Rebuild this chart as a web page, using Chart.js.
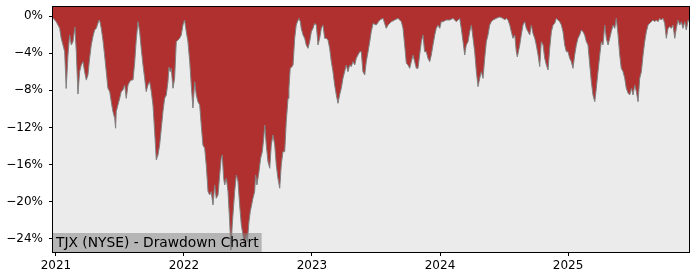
<!DOCTYPE html>
<html><head><meta charset="utf-8">
<script src="https://cdn.jsdelivr.net/npm/chart.js@4"></script>
<style>html,body{margin:0;padding:0;background:#fff}#wrap{width:700px;height:280px}</style>
</head><body><div id="wrap"><canvas id="c" width="700" height="280"></canvas></div>
<script>
const yearTicks = [2021, 2022, 2023, 2024, 2025];
const pctTicks = [-24, -20, -16, -12, -8, -4, 0];
const chartLabel = 'TJX (NYSE) - Drawdown Chart';

// [decimal year, drawdown %]
const dd2021 = [[2020.977,-0.2],[2020.990,-0.43],[2021.002,-0.61],[2021.016,-0.97],[2021.029,-1.33],[2021.041,-2.4],[2021.055,-3.12],[2021.068,-3.84],[2021.080,-7.8],[2021.094,-4.2],[2021.107,-2.04],[2021.120,-3.12],[2021.133,-2.76],[2021.148,-1.2],[2021.159,-3.84],[2021.172,-8.4],[2021.185,-5.99],[2021.198,-5.27],[2021.211,-4.91],[2021.224,-5.99],[2021.237,-6.9],[2021.250,-6.35],[2021.263,-4.55],[2021.276,-3.12],[2021.289,-2.22],[2021.302,-1.51],[2021.315,-1.33],[2021.328,-0.79],[2021.336,-0.43],[2021.344,-0.61],[2021.354,-1.33],[2021.367,-2.58],[2021.380,-4.2],[2021.393,-5.99],[2021.406,-7.78],[2021.420,-8.14],[2021.432,-9.22],[2021.445,-10.29],[2021.459,-11.01],[2021.466,-12.08],[2021.471,-10.29],[2021.484,-9.58],[2021.498,-8.86],[2021.510,-8.14],[2021.523,-7.96],[2021.537,-7.42],[2021.549,-8.86],[2021.563,-7.42],[2021.576,-7.07],[2021.588,-6.89],[2021.602,-6.89],
[2021.615,-5.0],[2021.627,-2.6],[2021.641,-0.61],[2021.654,-1.69],[2021.666,-3.48],[2021.680,-5.27],[2021.693,-6.71],[2021.705,-8.14],[2021.719,-7.42],[2021.732,-7.07],[2021.745,-8.14],[2021.758,-9.58],[2021.771,-12.44],[2021.784,-15.49],[2021.797,-14.96],[2021.810,-13.88],[2021.823,-12.1],[2021.836,-10.29],[2021.849,-8.86],[2021.862,-8.5],[2021.875,-7.07],[2021.883,-5.5],[2021.893,-5.99],[2021.901,-5.63],[2021.914,-7.78],[2021.927,-6.71],[2021.940,-2.76],[2021.953,-2.58],[2021.966,-2.4],[2021.979,-2.04],[2021.992,-0.97]];
const dd2022 = [[2022.005,-0.43],[2022.018,-1.69],[2022.031,-2.76],[2022.045,-4.91],[2022.057,-7.42],[2022.070,-9.9],[2022.084,-7.07],[2022.096,-8.5],[2022.109,-9.22],[2022.123,-9.58],[2022.135,-11.73],[2022.148,-13.88],[2022.162,-14.24],[2022.174,-16.03],[2022.188,-18.9],[2022.201,-19.26],[2022.213,-18.9],[2022.227,-20.34],
[2022.240,-18.18],[2022.252,-19.62],[2022.266,-19.26],[2022.279,-17.11],[2022.291,-15.3],[2022.299,-14.96],[2022.310,-17.47],[2022.318,-18.18],[2022.331,-17.47],[2022.344,-18.9],[2022.357,-22.13],[2022.367,-25.2],[2022.377,-22.5],[2022.396,-18.9],[2022.409,-17.11],[2022.422,-17.8],[2022.435,-20.34],[2022.448,-22.49],[2022.461,-23.56],[2022.474,-24.8],[2022.487,-23.56],[2022.495,-24.28],[2022.508,-22.13],[2022.518,-21.05],[2022.539,-19.62],[2022.552,-18.9],[2022.560,-17.11],[2022.570,-18.18],[2022.586,-16.75],[2022.599,-15.31],[2022.612,-14.6],[2022.623,-13.16],[2022.631,-11.73],[2022.643,-13.88],[2022.656,-15.67],[2022.670,-16.39],[2022.682,-13.88],[2022.695,-12.8],[2022.709,-13.88],[2022.721,-16.03],[2022.734,-17.47],[2022.748,-18.54],[2022.760,-16.03],[2022.773,-14.6],[2022.787,-14.6],[2022.799,-11.37],[2022.813,-8.86],[2022.820,-7.78],[2022.830,-5.63],[2022.844,-5.45],[2022.852,-5.27],
[2022.865,-2.4],[2022.877,-0.97],[2022.891,-0.43],[2022.898,-0.25],[2022.909,-0.61],[2022.916,-1.33],[2022.930,-2.04],[2022.943,-2.4],[2022.955,-3.12],[2022.969,-3.48],[2022.982,-2.76],[2022.995,-1.69]];
const dd2023 = [[2023.008,-1.33],[2023.021,-0.79],[2023.034,-0.97],[2023.047,-3.12],[2023.060,-2.4],[2023.073,-1.33],[2023.086,-0.97],[2023.099,-2.4],[2023.112,-2.4],[2023.125,-2.58],[2023.138,-3.48],[2023.151,-4.91],[2023.164,-5.99],[2023.177,-7.42],[2023.190,-8.5],[2023.203,-9.4],[2023.216,-8.5],[2023.229,-7.78],[2023.242,-6.71],[2023.255,-5.99],[2023.268,-5.27],[2023.281,-5.99],[2023.295,-5.27],[2023.307,-5.45],[2023.320,-4.91],[2023.334,-5.27],[2023.346,-4.55],[2023.359,-4.2],[2023.373,-3.84],[2023.385,-3.84],[2023.398,-5.99],[2023.412,-6.35],[2023.424,-4.91],[2023.438,-3.84],[2023.451,-2.76],[2023.463,-1.69],[2023.477,-0.8],
[2023.502,-0.97],[2023.529,-0.43],[2023.555,-0.25],[2023.580,-1.33],[2023.594,-0.97],[2023.620,-0.61],[2023.646,-0.43],[2023.672,-0.25],[2023.698,-0.61],[2023.711,-1.33],[2023.724,-3.12],[2023.737,-5.09],[2023.750,-5.27],[2023.763,-5.63],[2023.776,-4.91],[2023.789,-4.2],[2023.802,-4.91],[2023.815,-5.63],[2023.828,-5.63],[2023.841,-4.2],[2023.854,-2.76],[2023.867,-2.04],[2023.880,-3.84],[2023.893,-3.84],[2023.906,-4.55],[2023.920,-4.91],[2023.932,-4.2],[2023.945,-3.12],[2023.959,-2.04],[2023.971,-1.33],[2023.984,-0.97],[2023.998,-1.33]];
const dd2024 = [[2024.010,-0.61],[2024.023,-0.61],[2024.049,-0.43],[2024.076,-0.43],[2024.102,-0.25],
[2024.127,-0.61],[2024.141,-0.43],[2024.154,-0.25],[2024.166,-1.33],[2024.180,-2.76],[2024.193,-4.2],[2024.205,-3.12],[2024.219,-2.76],[2024.232,-1.69],[2024.245,-0.97],[2024.258,-2.4],[2024.271,-3.84],[2024.284,-5.99],[2024.297,-7.6],[2024.310,-6.71],[2024.323,-5.99],[2024.336,-6.71],[2024.349,-4.55],[2024.362,-2.76],[2024.375,-2.04],[2024.388,-0.97],[2024.401,-0.61],[2024.414,-0.43],[2024.440,-0.25],[2024.466,-0.1],[2024.492,-0.25],[2024.505,-0.43],[2024.518,-0.25],[2024.531,-0.43],[2024.545,-0.97],[2024.557,-1.69],[2024.570,-2.4],[2024.584,-2.04],[2024.596,-3.84],[2024.604,-4.4],[2024.623,-3.12],[2024.635,-2.04],[2024.648,-0.97],[2024.662,-0.61],[2024.674,-1.33],[2024.688,-1.69],[2024.701,-2.04],[2024.713,-0.97],[2024.727,-1.9],
[2024.740,-2.4],[2024.752,-3.12],[2024.766,-4.2],[2024.779,-5.45],[2024.791,-2.76],[2024.805,-3.12],[2024.818,-4.55],[2024.831,-5.27],[2024.844,-5.8],[2024.857,-3.48],[2024.870,-1.69],[2024.883,-0.97],[2024.896,-0.79],[2024.909,-0.25],[2024.922,-0.43],[2024.935,-0.61],[2024.948,-0.97],[2024.961,-1.69],[2024.974,-3.12],[2024.987,-3.84]];
const dd2025 = [[2025.000,-3.84],[2025.013,-4.55],[2025.026,-4.91],[2025.039,-5.63],[2025.052,-4.2],[2025.065,-3.12],[2025.078,-2.4],[2025.091,-2.04],[2025.104,-1.51],[2025.117,-1.69],[2025.130,-2.04],[2025.143,-2.76],[2025.156,-3.12],[2025.170,-5.27],[2025.182,-7.07],[2025.195,-8.5],[2025.209,-9.22],[2025.221,-7.78],[2025.234,-5.99],[2025.248,-4.2],[2025.260,-2.76],[2025.273,-3.12],[2025.287,-0.97],[2025.299,-2.4],[2025.313,-3.12],[2025.326,-2.4],[2025.338,-1.69],[2025.352,-0.97],
[2025.365,-1.33],[2025.377,-0.25],[2025.391,-2.04],[2025.404,-4.2],[2025.416,-5.63],[2025.430,-5.99],[2025.443,-6.71],[2025.455,-7.78],[2025.469,-8.3],[2025.482,-8.5],[2025.495,-7.78],[2025.508,-8.5],[2025.521,-7.42],[2025.534,-8.14],[2025.547,-9.22],[2025.560,-6.71],[2025.573,-5.99],[2025.586,-4.2],[2025.599,-2.76],[2025.612,-1.69],[2025.625,-0.97],[2025.638,-0.79],[2025.651,-0.61],[2025.664,-0.43],[2025.677,-0.61],[2025.690,-0.43],[2025.703,-0.61],[2025.716,-0.25],[2025.729,-0.43],[2025.742,-0.25],[2025.755,-0.79],[2025.768,-2.4],[2025.781,-1.33],[2025.795,-1.15],[2025.807,-1.33],[2025.820,-0.97],[2025.834,-2.4],[2025.846,-1.33],[2025.859,-0.43],[2025.873,-0.97],[2025.885,-0.61],[2025.898,-1.33],[2025.912,-0.61],[2025.924,-1.51],[2025.938,-0.43],[2025.945,-0.61]];

const points = [].concat(dd2021, dd2022, dd2023, dd2024, dd2025).map(p => ({x: p[0], y: p[1]}));
const FONT = '"DejaVu Sans", sans-serif';

const framePlugin = {
  id: 'frame',
  beforeDraw(chart) {
    const {ctx, chartArea: a} = chart;
    ctx.save();
    ctx.fillStyle = '#ebebeb';
    ctx.fillRect(a.left, a.top, a.right - a.left, a.bottom - a.top);
    ctx.restore();
  },
  afterDatasetsDraw(chart) {
    const {ctx, chartArea: a} = chart;
    ctx.save();
    ctx.font = '13.8px ' + FONT;
    const w = ctx.measureText(chartLabel).width;
    ctx.fillStyle = 'rgba(128,128,128,0.5)';
    ctx.fillRect(a.left, a.bottom - 19, w + 6, 19);
    ctx.fillStyle = '#000';
    ctx.textBaseline = 'alphabetic';
    ctx.fillText(chartLabel, a.left + 3, a.bottom - 5);
    ctx.strokeStyle = '#000';
    ctx.lineWidth = 1;
    ctx.strokeRect(a.left - 0.5, a.top - 0.5, a.right - a.left + 1, a.bottom - a.top + 1);
    ctx.restore();
  }
};

new Chart(document.getElementById('c'), {
  type: 'line',
  data: {
    datasets: [{
      data: points,
      borderColor: '#808080',
      borderWidth: 1,
      backgroundColor: '#b03030',
      fill: 'end',
      pointRadius: 0,
      tension: 0
    }]
  },
  options: {
    responsive: false,
    animation: false,
    devicePixelRatio: 1,
    layout: {padding: {top: 7, right: 11, left: 0, bottom: 0}},
    plugins: {legend: {display: false}, tooltip: {enabled: false}},
    scales: {
      x: {
        type: 'linear',
        min: 2020.977,
        max: 2025.945,
        afterBuildTicks: s => { s.ticks = yearTicks.map(v => ({value: v})); },
        afterFit: s => { s.height = 28; s.paddingLeft = 0; s.paddingRight = 0; },
        ticks: {callback: v => String(v), font: {family: FONT, size: 12}, color: '#000', maxRotation: 0, autoSkip: false, padding: 3},
        grid: {display: true, drawOnChartArea: false, tickLength: 4, tickColor: '#000', tickWidth: 1},
        border: {display: false}
      },
      y: {
        type: 'linear',
        min: -25.4,
        max: 0.97,
        afterBuildTicks: s => { s.ticks = pctTicks.map(v => ({value: v})); },
        afterFit: s => { s.width = 53; s.paddingTop = 0; s.paddingBottom = 0; },
        ticks: {callback: v => (v < 0 ? '\u2212' : '') + Math.abs(v) + '%', font: {family: FONT, size: 12}, color: '#000', padding: 6},
        grid: {display: true, drawOnChartArea: false, tickLength: 4, tickColor: '#000', tickWidth: 1},
        border: {display: false}
      }
    }
  },
  plugins: [framePlugin]
});
</script>
</body></html>
